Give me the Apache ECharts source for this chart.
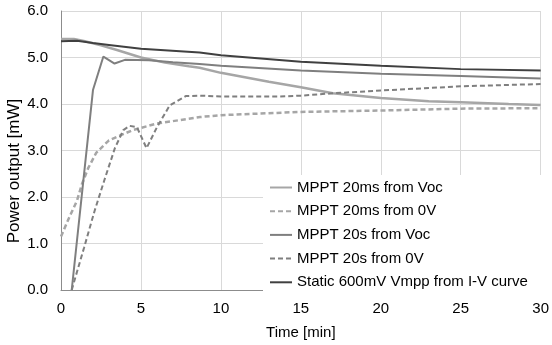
<!DOCTYPE html>
<html><head><meta charset="utf-8">
<script src="https://cdn.jsdelivr.net/npm/echarts@6/dist/echarts.min.js"></script>
<style>html,body{margin:0;padding:0;background:#fff}#c{width:552px;height:345px}</style>
</head><body><div id="c"></div>
<script>
const xTicks = [0, 5, 10, 15, 20, 25, 30];
const yTicks = [0, 1, 2, 3, 4, 5, 6];
const names = ["MPPT 20ms from Voc", "MPPT 20ms from 0V", "MPPT 20s from Voc", "MPPT 20s from 0V", "Static 600mV Vmpp from I-V curve"];

const t1 = [0, 0.8, 1.5, 2.5, 3.5, 5, 6.5, 8, 8.67, 10, 13, 15, 17, 20, 23, 25, 28, 30];
const v1 = [5.40, 5.40, 5.35, 5.26, 5.16, 5.00, 4.89, 4.81, 4.78, 4.67, 4.48, 4.36, 4.23, 4.13, 4.06, 4.04, 4.00, 3.98];

const t2 = [0, 0.5, 1.0, 1.3, 1.7, 2.2, 3.0, 4.5, 6, 8.7, 10, 15, 20, 25, 30];
const v2 = [1.15, 1.55, 1.92, 2.27, 2.62, 2.95, 3.22, 3.44, 3.58, 3.72, 3.76, 3.83, 3.86, 3.90, 3.91];

const t3 = [0.67, 2.0, 2.65, 3.35, 4.0, 5.5, 7, 8.67, 10, 15, 20, 25, 30];
const v3 = [0, 4.30, 5.02, 4.87, 4.95, 4.94, 4.90, 4.86, 4.82, 4.72, 4.65, 4.60, 4.55];

const t4 = [0.67, 1.45, 2.1, 2.7, 3.37, 3.9, 4.3, 4.75, 5.35, 6.0, 6.8, 7.8, 8.7, 10, 13.6, 15, 17, 20, 25, 30];
const v4 = [0, 0.92, 1.7, 2.35, 3.05, 3.44, 3.53, 3.50, 3.05, 3.50, 3.97, 4.17, 4.18, 4.16, 4.16, 4.18, 4.23, 4.29, 4.38, 4.43];

const t5 = [0, 1, 2, 3, 5, 8.67, 10, 15, 20, 25, 30];
const v5 = [5.35, 5.36, 5.31, 5.27, 5.19, 5.11, 5.05, 4.91, 4.82, 4.75, 4.72];

const pairs = (t, v) => t.map((x, i) => [x, v[i]]);
const styles = [
  {color: '#a6a6a6', width: 2.5, type: 'solid'},
  {color: '#a6a6a6', width: 2.5, type: [5, 3]},
  {color: '#7f7f7f', width: 2, type: 'solid'},
  {color: '#7f7f7f', width: 2, type: [5, 3]},
  {color: '#404040', width: 2, type: 'solid'}
];
const data = [pairs(t1, v1), pairs(t2, v2), pairs(t3, v3), pairs(t4, v4), pairs(t5, v5)];
const font = 'Liberation Sans';

const chart = echarts.init(document.getElementById('c'), null, {renderer: 'canvas'});
chart.setOption({
  animation: false,
  backgroundColor: '#fff',
  grid: {left: 61, right: 9, top: 11, bottom: 52, containLabel: false},
  xAxis: {
    type: 'value', min: xTicks[0], max: xTicks[xTicks.length - 1], interval: 5,
    name: 'Time [min]', nameLocation: 'middle', nameGap: 35,
    nameTextStyle: {fontFamily: font, fontSize: 15, color: '#000'},
    axisLine: {show: true, lineStyle: {color: '#8c8c8c', width: 1}},
    axisTick: {show: false},
    axisLabel: {fontFamily: font, fontSize: 15, color: '#000', margin: 11},
    splitLine: {show: true, lineStyle: {color: '#d9d9d9', width: 1}}
  },
  yAxis: {
    type: 'value', min: yTicks[0], max: yTicks[yTicks.length - 1], interval: 1,
    axisLine: {show: true, lineStyle: {color: '#8c8c8c', width: 1}},
    axisTick: {show: false},
    axisLabel: {fontFamily: font, fontSize: 15, color: '#000', margin: 13, formatter: v => v.toFixed(1)},
    splitLine: {show: true, lineStyle: {color: '#d9d9d9', width: 1}}
  },
  graphic: [{
    type: 'text', x: 14, y: 171, rotation: Math.PI / 2, z: 10,
    style: {text: 'Power output [mW]', fontFamily: font, fontSize: 17, fill: '#000', align: 'center', verticalAlign: 'middle'}
  }],
  legend: {
    orient: 'vertical', left: 263, top: 175,
    backgroundColor: '#fff', borderWidth: 0,
    padding: [5, 14, 3, 6], itemGap: 8.7, itemWidth: 22, itemHeight: 14,
    itemStyle: {opacity: 0},
    textStyle: {fontFamily: font, fontSize: 15, color: '#000'},
    data: names
  },
  series: names.map((n, i) => ({
    name: n, type: 'line', data: data[i], symbol: 'none', showSymbol: false,
    z: 2 + (i === 4 ? 1 : 0),
    lineStyle: styles[i], itemStyle: {color: styles[i].color}
  }))
});
</script></body></html>
